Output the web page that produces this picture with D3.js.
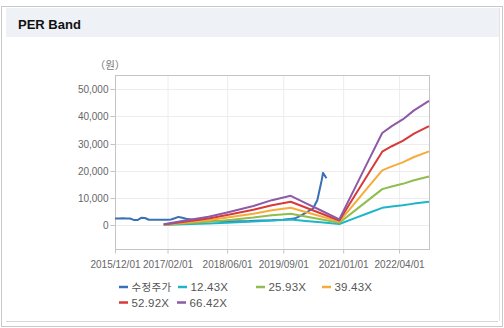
<!DOCTYPE html>
<html><head><meta charset="utf-8">
<script src="https://cdn.jsdelivr.net/npm/d3@7/dist/d3.min.js"></script>
<style>
body{margin:0;background:#fff}
svg{display:block}
</style>
</head><body>
<svg id="c" width="504" height="328"></svg>
<script>
// ---------- data ----------
const chartTitle = "PER Band";
const unitLabel = "（원）";
const seriesNames = ["수정주가", "12.43X", "25.93X", "39.43X", "52.92X", "66.42X"];
const seriesColors = ["#3a70b5", "#1fb5c8", "#8fbe4e", "#f7ab3a", "#d83a3a", "#8d5aa6"];

const priceDates = ["2015-12-01","2016-01-01","2016-02-01","2016-03-01","2016-04-01","2016-05-01","2016-06-01","2016-07-01","2016-08-01","2016-09-01","2016-10-01","2016-11-01","2016-12-01","2017-01-01","2017-02-01","2017-03-01","2017-04-01","2017-05-01","2017-06-01","2017-07-01","2017-09-01","2017-12-01","2018-03-01","2018-06-01","2018-09-01","2018-12-01","2019-03-01","2019-06-01","2019-09-01","2019-12-01","2020-01-15","2020-03-01","2020-05-01","2020-06-05","2020-07-10","2020-07-21","2020-08-18"];
const priceValues = [2460,2450,2480,2440,2420,1900,1850,2650,2600,1950,1950,1920,1950,1980,2000,2050,2500,3000,2700,2300,2000,1600,1500,1300,1400,1500,1700,1800,2000,2400,3300,4500,6100,9200,16500,19200,17200];

const bandDates = ["2017-01-01","2017-06-01","2018-01-01","2018-06-01","2019-01-01","2019-06-01","2019-11-01","2020-03-01","2020-07-01","2020-12-01","2021-04-01","2021-08-01","2021-11-15","2022-02-01","2022-05-01","2022-08-01","2022-12-01"];
const band1243 = [50,273,572,870,1318,1715,2014,1516,1019,398,2461,4537,6339,6812,7272,7893,8552];
const band2593 = [104,570,1193,1815,2749,3578,4201,3163,2126,830,5134,9464,13224,14210,15169,16466,17840];
const band3943 = [158,867,1814,2760,4180,5441,6388,4810,3233,1262,7807,14392,20109,21608,23067,25038,27128];
const band5292 = [212,1164,2434,3704,5610,7303,8573,6456,4339,1693,10478,19316,26989,29000,30958,33604,36409];
const band6642 = [266,1461,3055,4649,7041,9166,10760,8103,5446,2125,13151,24243,33874,36398,38856,42177,45697];

const xTickDates = ["2015-12-01","2017-02-01","2018-06-01","2019-09-01","2021-01-01","2022-04-01"];
const yTickValues = [0,10000,20000,30000,40000,50000];

// ---------- layout ----------
const parse = d3.utcParse("%Y-%m-%d");
const svg = d3.select("#c");
const plot = {left:115, right:429, top:75, bottom:249};

// frame / header
svg.append("rect").attr("x",1.5).attr("y",6.5).attr("width",501).attr("height",320)
  .attr("fill","#fff").attr("stroke","#c9c9c9");
svg.append("rect").attr("x",6).attr("y",8).attr("width",493).attr("height",29).attr("fill","#eef1f6");
svg.append("line").attr("x1",499.5).attr("x2",499.5).attr("y1",8).attr("y2",321).attr("stroke","#e4e4e4");
svg.append("line").attr("x1",6).attr("x2",498).attr("y1",321.5).attr("y2",321.5).attr("stroke","#d6d6d6");
svg.append("text").attr("x",18).attr("y",28.5).text(chartTitle)
  .attr("font-family","'Liberation Sans', Arial, sans-serif").attr("font-weight","bold")
  .attr("font-size","13px").attr("fill","#111");

const x = d3.scaleUtc().domain([parse("2015-12-01"), parse("2022-12-01")]).range([plot.left, plot.right]);
const y = d3.scaleLinear().domain([-8800, 55200]).range([plot.bottom, plot.top]);

// grid
const g = svg.append("g");
g.selectAll(".vg").data(xTickDates).join("line")
  .attr("x1",d=>x(parse(d))+0.5).attr("x2",d=>x(parse(d))+0.5)
  .attr("y1",plot.top).attr("y2",plot.bottom).attr("stroke","#ededed");
g.selectAll(".hg").data(yTickValues).join("line")
  .attr("x1",plot.left).attr("x2",plot.right)
  .attr("y1",d=>Math.round(y(d))+0.5).attr("y2",d=>Math.round(y(d))+0.5).attr("stroke","#ededed");
// frame of plot
svg.append("rect").attr("x",plot.left+0.5).attr("y",plot.top+0.5)
  .attr("width",plot.right-plot.left).attr("height",plot.bottom-plot.top)
  .attr("fill","none").attr("stroke","#c4c4c4");

// axes
const fontAxis = "'Liberation Sans', Arial, sans-serif";
const yAxis = d3.axisLeft(y).tickValues(yTickValues).tickFormat(d3.format(",")).tickSize(5).tickPadding(2);
const ya = svg.append("g").attr("transform",`translate(${plot.left+0.5},0)`).call(yAxis);
ya.select(".domain").remove();
ya.selectAll("line").attr("stroke","#c4c4c4");
ya.selectAll("text").attr("font-family",fontAxis).attr("font-size","10px").attr("fill","#666");
ya.selectAll(".tick").attr("transform",d=>`translate(0,${Math.round(y(d))+0.5})`);

const xAxis = d3.axisBottom(x).tickValues(xTickDates.map(parse)).tickFormat(d3.utcFormat("%Y/%m/%d")).tickSize(4).tickPadding(7);
const xa = svg.append("g").attr("transform",`translate(0,${plot.bottom+0.5})`).call(xAxis);
xa.select(".domain").remove();
xa.selectAll("line").attr("stroke","#c4c4c4");
xa.selectAll("text").attr("font-family",fontAxis).attr("font-size","10px").attr("fill","#666");

svg.append("text").attr("x",110).attr("y",69).attr("text-anchor","middle").text(unitLabel)
  .attr("font-family","'Noto Sans CJK KR', sans-serif").attr("font-size","10.5px").attr("fill","#777");

// lines
const line = d3.line().x(d=>x(d[0])).y(d=>y(d[1]));
const priceSeries = priceDates.map((d,i)=>[parse(d), priceValues[i]]);
const bands = [band1243, band2593, band3943, band5292, band6642].map(arr => bandDates.map((d,i)=>[parse(d), arr[i]]));
const allSeries = [priceSeries, ...bands];
svg.append("g").selectAll("path").data(allSeries).join("path")
  .attr("d", line).attr("fill","none")
  .attr("stroke",(d,i)=>seriesColors[i]).attr("stroke-width",2)
  .attr("stroke-linejoin","round");

// legend
const legendPos = [[119,287],[178,287],[256,287],[322,287],[119,302.5],[177,302.5]];
const lg = svg.append("g");
seriesNames.forEach((name,i)=>{
  const [lx,ly] = legendPos[i];
  lg.append("line").attr("x1",lx).attr("x2",lx+9).attr("y1",ly).attr("y2",ly)
    .attr("stroke",seriesColors[i]).attr("stroke-width",2.5);
  const isKo = /[가-힣]/.test(name);
  lg.append("text").attr("x",lx+12.5).attr("y",ly+4.2).text(name)
    .attr("font-family", isKo ? "'Noto Sans CJK KR', sans-serif" : fontAxis)
    .attr("font-size", isKo ? "10.5px" : "11.5px")
    .attr("letter-spacing", isKo ? "0.3px" : "0.2px")
    .attr("fill","#555");
});
</script>
</body></html>
